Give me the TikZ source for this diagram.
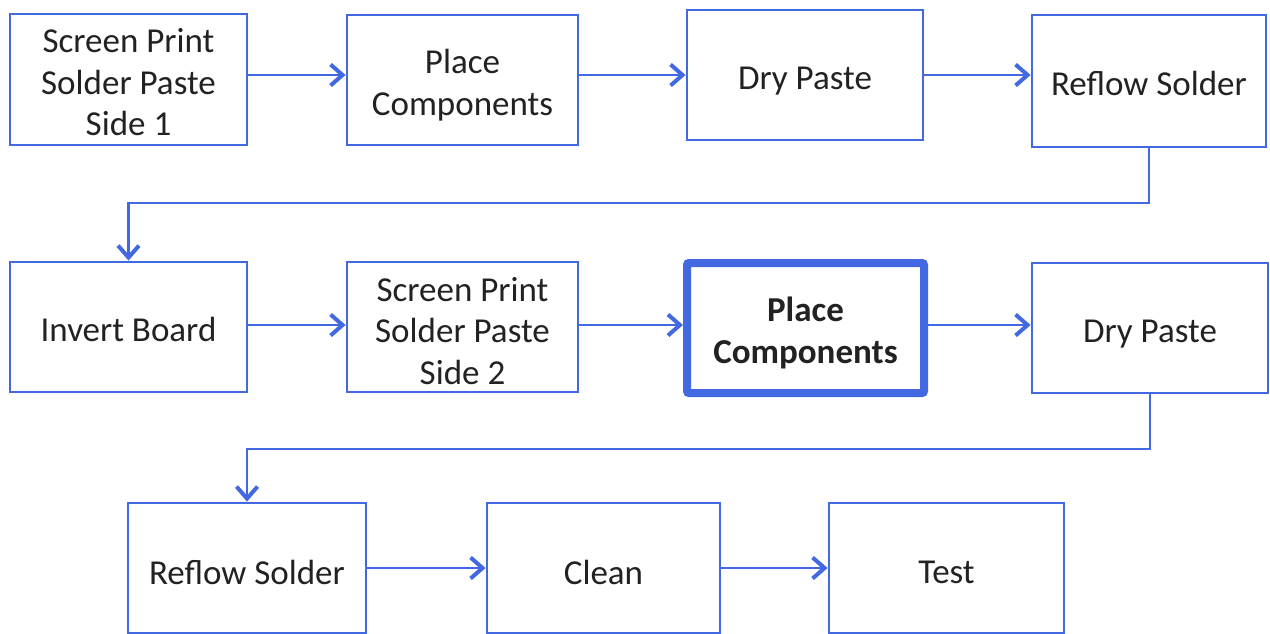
\documentclass[tikz,border=0pt]{standalone}
\usepackage{fontspec}
\setmainfont{Carlito}
\usetikzlibrary{arrows.meta}
\definecolor{flowblue}{RGB}{66,104,226}
\definecolor{ink}{RGB}{34,34,34}
\tikzset{
  stepbox/.style={draw=flowblue, line width=2.8pt, fill=white, inner sep=0pt},
  keybox/.style={stepbox, line width=8pt, rounded corners=2pt},
  txt/.style={align=center, text=ink, inner sep=0pt, font=\fontsize{35}{41.5}\selectfont},
  keytxt/.style={txt, font=\fontsize{35}{41.5}\selectfont\bfseries},
  % box with its caption set a little below the centre
  caption/.style 2 args={label={[txt, yshift=-#1pt]center:{#2}}},
  keycaption/.style 2 args={label={[keytxt, yshift=-#1pt]center:{#2}}},
  flow/.style={draw=flowblue, line width=2.8pt,
    -{Straight Barb[length=12pt,width=21pt,line width=4pt]}}
}
\begin{document}
\begin{tikzpicture}[x=1pt,y=-1pt]
\useasboundingbox (0,0) rectangle (1270,633);
% first row: side 1
\node[stepbox, minimum width=237pt, minimum height=131pt, caption={3}{Screen Print\\Solder Paste\\Side 1}] (sp1) at (128.5,79.5) {};
\node[stepbox, minimum width=231pt, minimum height=130pt, caption={5}{Place\\Components}] (pc1) at (462.5,80) {};
\node[stepbox, minimum width=236pt, minimum height=130pt, caption={6}{Dry Paste}] (dp1) at (805,75) {};
\node[stepbox, minimum width=234pt, minimum height=132pt, caption={2}{Reflow Solder}] (rs1) at (1149,81) {};
% second row: side 2
\node[stepbox, minimum width=237pt, minimum height=130pt, caption={2}{Invert Board}] (inv) at (128.5,327) {};
\node[stepbox, minimum width=231pt, minimum height=130pt, caption={4}{Screen Print\\Solder Paste\\Side 2}] (sp2) at (462.5,327) {};
\node[keybox, minimum width=237pt, minimum height=130pt, keycaption={5}{Place\\Components}] (pc2) at (805.5,328) {};
\node[stepbox, minimum width=236pt, minimum height=130pt, caption={6}{Dry Paste}] (dp2) at (1150,328) {};
% third row: finishing
\node[stepbox, minimum width=238pt, minimum height=130pt, caption={4}{Reflow Solder}] (rs2) at (247,568) {};
\node[stepbox, minimum width=233pt, minimum height=130pt, caption={4}{Clean}] (cln) at (603.5,568) {};
\node[stepbox, minimum width=235pt, minimum height=130pt, caption={4}{Test}] (tst) at (946.5,568) {};
% bends between rows
\coordinate (bend1) at (1151,203);
\coordinate (bend2) at (1151,449);
% connectors
\draw[flow] (sp1.east |- 0,75) -- (pc1.west |- 0,75);
\draw[flow] (pc1.east |- 0,75) -- (dp1.west |- 0,75);
\draw[flow] (dp1.east) -- (dp1.east -| rs1.west);
\draw[flow] (rs1.south) -- (rs1.south |- bend1) -| (inv.north);
\draw[flow] (inv.east |- 0,325) -- (sp2.west |- 0,325);
\draw[flow] (sp2.east |- 0,325) -- (pc2.west |- 0,325);
\draw[flow] (pc2.east |- 0,325) -- (dp2.west |- 0,325);
\draw[flow] (dp2.south) -- (dp2.south |- bend2) -| (rs2.north);
\draw[flow] (rs2) -- (cln);
\draw[flow] (cln) -- (tst);
\end{tikzpicture}
\end{document}
